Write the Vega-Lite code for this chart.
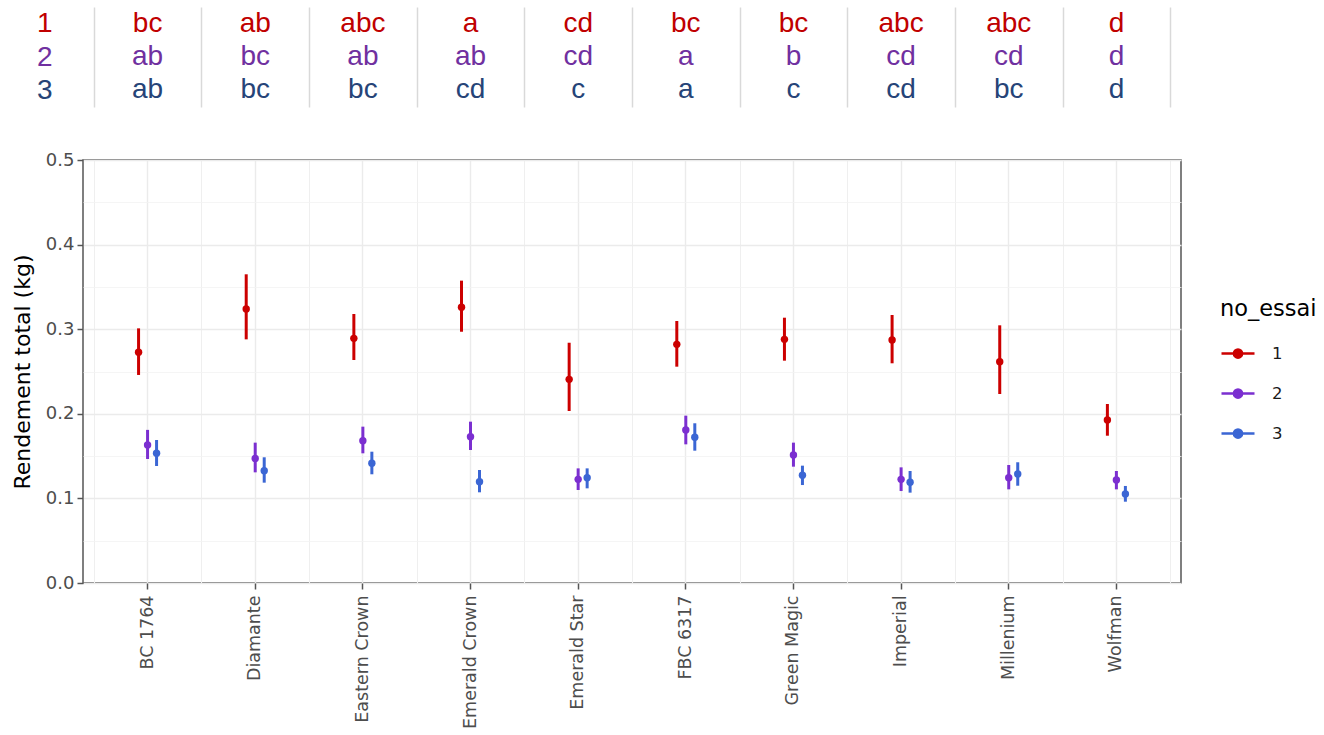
{
  "$schema": "https://vega.github.io/schema/vega-lite/v6.json",
  "padding": {"left": 10, "top": 7, "right": 5, "bottom": 2},
  "bounds": "flush",
  "spacing": 53,
  "config": {
    "font": "Liberation Sans",
    "view": {"stroke": null},
    "axis": {"labelFont": "DejaVu Sans", "titleFont": "DejaVu Sans"},
    "legend": {"labelFont": "DejaVu Sans", "titleFont": "DejaVu Sans"}
  },
  "datasets": {
    "ci": [
      {"variete": "BC 1764", "essai": "1", "moyenne": 0.2727, "bas": 0.2459, "haut": 0.301},
      {"variete": "BC 1764", "essai": "2", "moyenne": 0.1631, "bas": 0.1466, "haut": 0.181},
      {"variete": "BC 1764", "essai": "3", "moyenne": 0.1533, "bas": 0.1383, "haut": 0.169},
      {"variete": "Diamante", "essai": "1", "moyenne": 0.3239, "bas": 0.288, "haut": 0.3649},
      {"variete": "Diamante", "essai": "2", "moyenne": 0.1473, "bas": 0.1308, "haut": 0.1659},
      {"variete": "Diamante", "essai": "3", "moyenne": 0.1328, "bas": 0.1186, "haut": 0.1486},
      {"variete": "Eastern Crown", "essai": "1", "moyenne": 0.2892, "bas": 0.2636, "haut": 0.318},
      {"variete": "Eastern Crown", "essai": "2", "moyenne": 0.1682, "bas": 0.1533, "haut": 0.1848},
      {"variete": "Eastern Crown", "essai": "3", "moyenne": 0.1415, "bas": 0.1285, "haut": 0.1552},
      {"variete": "Emerald Crown", "essai": "1", "moyenne": 0.3259, "bas": 0.297, "haut": 0.3574},
      {"variete": "Emerald Crown", "essai": "2", "moyenne": 0.173, "bas": 0.1572, "haut": 0.1907},
      {"variete": "Emerald Crown", "essai": "3", "moyenne": 0.1198, "bas": 0.1072, "haut": 0.1336},
      {"variete": "Emerald Star", "essai": "1", "moyenne": 0.2407, "bas": 0.2033, "haut": 0.284},
      {"variete": "Emerald Star", "essai": "2", "moyenne": 0.1225, "bas": 0.1099, "haut": 0.1355},
      {"variete": "Emerald Star", "essai": "3", "moyenne": 0.1245, "bas": 0.1119, "haut": 0.1355},
      {"variete": "FBC 6317", "essai": "1", "moyenne": 0.2821, "bas": 0.2557, "haut": 0.3097},
      {"variete": "FBC 6317", "essai": "2", "moyenne": 0.1809, "bas": 0.1639, "haut": 0.1978},
      {"variete": "FBC 6317", "essai": "3", "moyenne": 0.1722, "bas": 0.1564, "haut": 0.1888},
      {"variete": "Green Magic", "essai": "1", "moyenne": 0.288, "bas": 0.2628, "haut": 0.3136},
      {"variete": "Green Magic", "essai": "2", "moyenne": 0.1513, "bas": 0.1375, "haut": 0.1659},
      {"variete": "Green Magic", "essai": "3", "moyenne": 0.1273, "bas": 0.1158, "haut": 0.1387},
      {"variete": "Imperial", "essai": "1", "moyenne": 0.2872, "bas": 0.2597, "haut": 0.3168},
      {"variete": "Imperial", "essai": "2", "moyenne": 0.1225, "bas": 0.1087, "haut": 0.1367},
      {"variete": "Imperial", "essai": "3", "moyenne": 0.119, "bas": 0.1068, "haut": 0.1324},
      {"variete": "Millenium", "essai": "1", "moyenne": 0.2616, "bas": 0.2234, "haut": 0.3046},
      {"variete": "Millenium", "essai": "2", "moyenne": 0.1245, "bas": 0.1107, "haut": 0.1395},
      {"variete": "Millenium", "essai": "3", "moyenne": 0.1288, "bas": 0.115, "haut": 0.1427},
      {"variete": "Wolfman", "essai": "1", "moyenne": 0.1927, "bas": 0.1741, "haut": 0.2116},
      {"variete": "Wolfman", "essai": "2", "moyenne": 0.1217, "bas": 0.1107, "haut": 0.1324},
      {"variete": "Wolfman", "essai": "3", "moyenne": 0.1052, "bas": 0.0961, "haut": 0.1147}
    ],
    "lettres": [
      {"variete": "BC 1764", "essai": "1", "lettre": "bc"},
      {"variete": "BC 1764", "essai": "2", "lettre": "ab"},
      {"variete": "BC 1764", "essai": "3", "lettre": "ab"},
      {"variete": "Diamante", "essai": "1", "lettre": "ab"},
      {"variete": "Diamante", "essai": "2", "lettre": "bc"},
      {"variete": "Diamante", "essai": "3", "lettre": "bc"},
      {"variete": "Eastern Crown", "essai": "1", "lettre": "abc"},
      {"variete": "Eastern Crown", "essai": "2", "lettre": "ab"},
      {"variete": "Eastern Crown", "essai": "3", "lettre": "bc"},
      {"variete": "Emerald Crown", "essai": "1", "lettre": "a"},
      {"variete": "Emerald Crown", "essai": "2", "lettre": "ab"},
      {"variete": "Emerald Crown", "essai": "3", "lettre": "cd"},
      {"variete": "Emerald Star", "essai": "1", "lettre": "cd"},
      {"variete": "Emerald Star", "essai": "2", "lettre": "cd"},
      {"variete": "Emerald Star", "essai": "3", "lettre": "c"},
      {"variete": "FBC 6317", "essai": "1", "lettre": "bc"},
      {"variete": "FBC 6317", "essai": "2", "lettre": "a"},
      {"variete": "FBC 6317", "essai": "3", "lettre": "a"},
      {"variete": "Green Magic", "essai": "1", "lettre": "bc"},
      {"variete": "Green Magic", "essai": "2", "lettre": "b"},
      {"variete": "Green Magic", "essai": "3", "lettre": "c"},
      {"variete": "Imperial", "essai": "1", "lettre": "abc"},
      {"variete": "Imperial", "essai": "2", "lettre": "cd"},
      {"variete": "Imperial", "essai": "3", "lettre": "cd"},
      {"variete": "Millenium", "essai": "1", "lettre": "abc"},
      {"variete": "Millenium", "essai": "2", "lettre": "cd"},
      {"variete": "Millenium", "essai": "3", "lettre": "bc"},
      {"variete": "Wolfman", "essai": "1", "lettre": "d"},
      {"variete": "Wolfman", "essai": "2", "lettre": "d"},
      {"variete": "Wolfman", "essai": "3", "lettre": "d"}
    ]
  },
  "vconcat": [
    {
      "width": 1098,
      "height": 100,
      "data": {"name": "lettres"},
      "mark": {"type": "text", "fontSize": 28, "baseline": "middle", "align": "center", "font": "Liberation Sans"},
      "encoding": {
        "x": {
          "field": "variete", "type": "nominal", "sort": null,
          "scale": {"type": "band", "paddingInner": 0, "paddingOuter": 0.1},
          "axis": {"title": null, "labels": false, "ticks": false, "domain": false, "grid": true, "tickBand": "extent", "gridColor": "#d9d9d9", "gridWidth": 1.5}
        },
        "y": {
          "field": "essai", "type": "nominal",
          "scale": {"type": "point", "padding": 0.5},
          "axis": {"title": null, "domain": false, "ticks": false, "grid": false, "labelFont": "Liberation Sans", "labelFontSize": 28, "labelPadding": 31, "labelBaseline": "middle",
            "labelColor": {"expr": "datum.value == '1' ? '#C00000' : (datum.value == '2' ? '#7030A0' : '#264478')"}}
        },
        "text": {"field": "lettre"},
        "color": {"condition": [{"test": "datum.essai == '1'", "value": "#C00000"}, {"test": "datum.essai == '2'", "value": "#7030A0"}], "value": "#264478"}
      }
    },
    {
      "width": 1098,
      "height": 423,
      "view": {"stroke": "#555555", "strokeWidth": 1.5},
      "data": {"name": "ci"},
      "encoding": {
        "color": {
          "field": "essai", "type": "nominal",
          "scale": {"domain": ["1", "2", "3"], "range": ["#CC0000", "#7B2FD0", "#3B66D4"]},
          "legend": {
            "orient": "none", "legendX": 1137, "legendY": 291, "padding": 0,
            "title": "no_essai", "titleFontSize": 22.5, "titleFontWeight": "normal", "titleColor": "#000000", "titlePadding": 15,
            "labelFontSize": 16.5, "labelColor": "#1a1a1a", "labelOffset": 16, "rowPadding": 12,
            "symbolType": "M-1,0L1,0M0.25,0A0.25,0.25,0,1,1,-0.25,0A0.25,0.25,0,1,1,0.25,0Z",
            "symbolSize": 1089, "symbolStrokeWidth": 2.5,
            "encode": {"symbols": {"update": {"stroke": {"scale": "color", "field": "value"}, "fill": {"scale": "color", "field": "value"}, "opacity": {"value": 1}}}}
          }
        }
      },
      "layer": [
        {
          "mark": {"type": "rule", "strokeWidth": 3},
          "encoding": {
            "x": {
              "field": "variete", "type": "nominal", "sort": null,
              "scale": {"type": "band", "paddingInner": 0, "paddingOuter": 0.1},
              "axis": {"orient": "top", "title": null, "labels": false, "ticks": false, "domain": false, "grid": true, "tickBand": "extent", "gridColor": "#efefef", "gridWidth": 1.1}
            },
            "xOffset": {"field": "essai", "type": "nominal", "scale": {"range": [40.3, 67.3], "paddingOuter": 0, "paddingInner": 0}},
            "y": {
              "field": "bas", "type": "quantitative",
              "scale": {"domain": [0, 0.5], "nice": false, "zero": true},
              "axis": {
                "title": "Rendement total (kg)", "titleFontSize": 22, "titleFontWeight": "normal", "titleColor": "#000000", "titlePadding": 11,
                "values": [0, 0.05, 0.1, 0.15, 0.2, 0.25, 0.3, 0.35, 0.4, 0.45, 0.5],
                "labelExpr": "round(datum.value * 100) % 10 == 0 ? format(datum.value, '.1f') : ''",
                "labelOverlap": false, "labelFlush": false,
                "labelFontSize": 18, "labelColor": "#4d4d4d", "labelPadding": 3,
                "tickSize": 6, "tickWidth": 1.5, "tickColor": "#555555",
                "tickOpacity": {"condition": {"test": "round(datum.value * 100) % 10 != 0", "value": 0}, "value": 1},
                "domain": false, "grid": true,
                "gridColor": {"condition": {"test": "round(datum.value * 100) % 10 != 0", "value": "#f3f3f3"}, "value": "#ebebeb"},
                "gridWidth": {"condition": {"test": "round(datum.value * 100) % 10 != 0", "value": 0.8}, "value": 1.4}
              }
            },
            "y2": {"field": "haut"}
          }
        },
        {
          "mark": {"type": "point", "filled": true, "size": 55, "opacity": 1},
          "encoding": {
            "x": {
              "field": "variete", "type": "nominal", "sort": null,
              "scale": {"type": "band", "paddingInner": 0, "paddingOuter": 0.1},
              "axis": {"orient": "bottom", "title": null, "labelAngle": 270, "labelFontSize": 17.5, "labelColor": "#4d4d4d", "labelPadding": 6,
                "tickSize": 6, "tickWidth": 1.5, "tickColor": "#555555", "domain": false, "grid": true, "gridColor": "#ebebeb", "gridWidth": 1.4}
            },
            "xOffset": {"field": "essai", "type": "nominal", "scale": {"range": [40.3, 67.3], "paddingOuter": 0, "paddingInner": 0}},
            "y": {
              "field": "moyenne", "type": "quantitative",
              "scale": {"domain": [0, 0.5], "nice": false, "zero": true},
              "axis": {
                "title": "Rendement total (kg)", "titleFontSize": 22, "titleFontWeight": "normal", "titleColor": "#000000", "titlePadding": 11,
                "values": [0, 0.05, 0.1, 0.15, 0.2, 0.25, 0.3, 0.35, 0.4, 0.45, 0.5],
                "labelExpr": "round(datum.value * 100) % 10 == 0 ? format(datum.value, '.1f') : ''",
                "labelOverlap": false, "labelFlush": false,
                "labelFontSize": 18, "labelColor": "#4d4d4d", "labelPadding": 3,
                "tickSize": 6, "tickWidth": 1.5, "tickColor": "#555555",
                "tickOpacity": {"condition": {"test": "round(datum.value * 100) % 10 != 0", "value": 0}, "value": 1},
                "domain": false, "grid": true,
                "gridColor": {"condition": {"test": "round(datum.value * 100) % 10 != 0", "value": "#f3f3f3"}, "value": "#ebebeb"},
                "gridWidth": {"condition": {"test": "round(datum.value * 100) % 10 != 0", "value": 0.8}, "value": 1.4}
              }
            }
          }
        }
      ],
      "resolve": {"axis": {"x": "independent"}}
    }
  ]
}
